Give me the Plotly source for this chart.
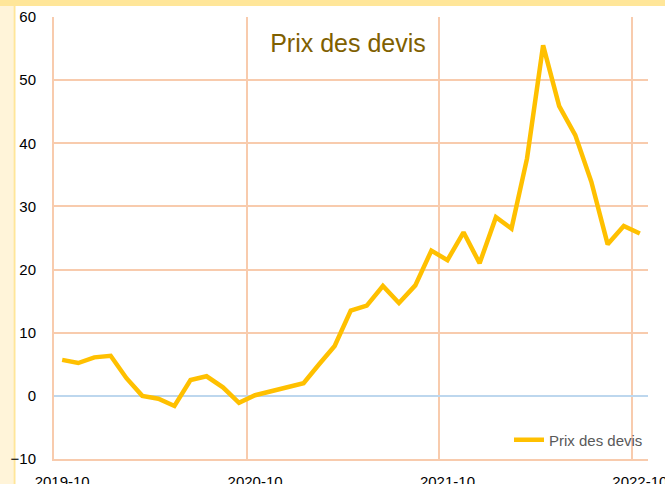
import pandas as pd
import plotly.graph_objects as go

# Monthly series, Oct 2019 - Oct 2022
months = [
    "2019-10", "2019-11", "2019-12", "2020-01", "2020-02", "2020-03", "2020-04",
    "2020-05", "2020-06", "2020-07", "2020-08", "2020-09", "2020-10", "2020-11",
    "2020-12", "2021-01", "2021-02", "2021-03", "2021-04", "2021-05", "2021-06",
    "2021-07", "2021-08", "2021-09", "2021-10", "2021-11", "2021-12", "2022-01",
    "2022-02", "2022-03", "2022-04", "2022-05", "2022-06", "2022-07", "2022-08",
    "2022-09", "2022-10",
]
prix_des_devis = [
    5.7, 5.2, 6.1, 6.35, 2.8, 0.0, -0.45, -1.6, 2.5, 3.1, 1.35, -1.1, 0.1, 0.7,
    1.35, 2.0, 5.0, 7.9, 13.5, 14.3, 17.4, 14.7, 17.5, 23.0, 21.5, 25.9, 21.0,
    28.3, 26.5, 37.6, 55.5, 45.9, 41.3, 33.9, 24.0, 26.9, 25.7,
]
year_labels = ["2019-10", "2020-10", "2021-10", "2022-10"]
y_ticks = [-10, 0, 10, 20, 30, 40, 50, 60]

SERIES_NAME = "Prix des devis"
FONT = "Liberation Sans, Arial, sans-serif"
GRID = "#F8CBAD"
GOLD = "#FFC000"

W, H = 665, 484
ML, MR, MT, MB = 54, 17, 17, 25
PW, PH = W - ML - MR, H - MT - MB


def mid_month(m):
    p = pd.Period(m, freq="M")
    return p.start_time + (p.end_time - p.start_time) / 2


x_mid = [mid_month(m) for m in months]
label_pos = [mid_month(m) for m in year_labels]
grid_pos = [pd.Period(m, freq="M").start_time for m in year_labels]
x_end = (pd.Period(months[-1], freq="M") + 1).start_time


def px_x(p):
    return (p - ML) / PW


def px_y(p):
    return (H - MB - p) / PH


fig = go.Figure()
fig.add_trace(go.Scatter(
    x=x_mid, y=prix_des_devis, mode="lines", name=SERIES_NAME,
    line=dict(color=GOLD, width=4.5), showlegend=True, cliponaxis=False,
))

# frame decoration: cream strip on the left, gold rules
shapes = [
    dict(type="rect", xref="paper", yref="paper", x0=px_x(0), x1=px_x(13.5),
         y0=px_y(H), y1=px_y(0), fillcolor="#FFF4D9", line=dict(width=0), layer="below"),
    dict(type="rect", xref="paper", yref="paper", x0=px_x(13.5), x1=px_x(15.5),
         y0=px_y(H), y1=px_y(0), fillcolor="#FFE699", line=dict(width=0), layer="below"),
    dict(type="rect", xref="paper", yref="paper", x0=px_x(0), x1=px_x(W),
         y0=px_y(6), y1=px_y(0), fillcolor="#FFE699", line=dict(width=0), layer="below"),
]

fig.update_layout(
    width=W, height=H,
    margin=dict(l=ML, r=MR, t=MT, b=MB, pad=0, autoexpand=False),
    paper_bgcolor="white", plot_bgcolor="white",
    font=dict(family=FONT, size=15, color="black"),
    shapes=shapes,
    title=dict(text=SERIES_NAME, xref="paper", yref="paper", x=px_x(348), y=px_y(43),
               xanchor="center", yanchor="middle", automargin=False,
               font=dict(family=FONT, size=25, color="#7F6000")),
    legend=dict(x=1.0, xanchor="right", y=px_y(440), yanchor="middle",
                bgcolor="rgba(0,0,0,0)", font=dict(family=FONT, size=15, color="#595959")),
    showlegend=True,
)

fig.update_xaxes(
    type="date", range=[grid_pos[0], x_end], automargin=False,
    tickmode="array", tickvals=label_pos, ticktext=year_labels,
    ticks="", showgrid=False, ticklabelstandoff=8, ticklabeloverflow="allow",
    tickfont=dict(family=FONT, size=15, color="black"),
    showline=True, linecolor=GRID, linewidth=2,
    minor=dict(tickmode="array", tickvals=grid_pos, showgrid=True,
               gridcolor=GRID, gridwidth=2, ticks=""),
    zeroline=False,
)
fig.update_yaxes(
    range=[-10, 60], tickmode="array", tickvals=y_ticks, automargin=False,
    ticks="", showgrid=True, gridcolor=GRID, gridwidth=2,
    zeroline=True, zerolinecolor="#BDD7EE", zerolinewidth=2,
    showline=True, linecolor=GRID, linewidth=2,
    ticklabelstandoff=13,
    tickfont=dict(family=FONT, size=15, color="black"),
)

fig.write_html("out.html")
